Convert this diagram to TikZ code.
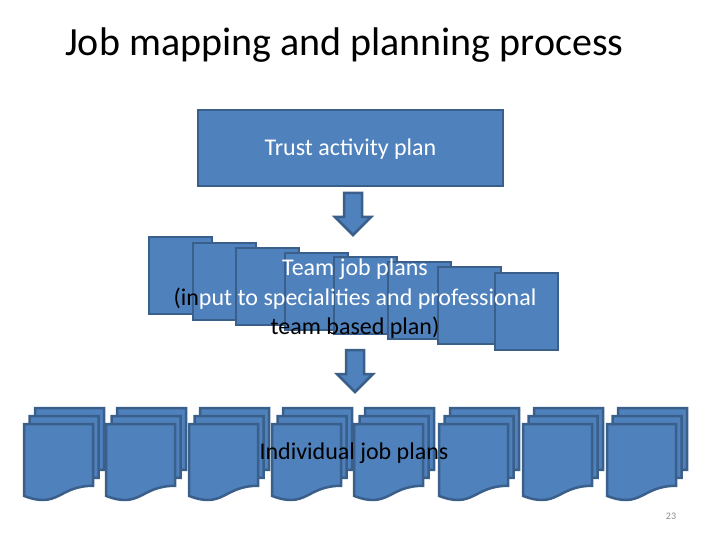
\documentclass[tikz,border=0pt]{standalone}
\usepackage{fontspec}
\setmainfont{Carlito}
\definecolor{boxfill}{HTML}{4F81BD}
\definecolor{boxline}{HTML}{3A5F8B}
\definecolor{pagenum}{HTML}{8A8A8A}
\tikzset{
  shapebox/.style={fill=boxfill,draw=boxline,line width=2.5bp,line join=miter},
  bodytext/.style={font=\fontsize{24bp}{29bp}\selectfont,inner sep=0pt,align=center},
}
\newcommand\docpath[2]{%
  \begin{scope}[shift={(#1,#2)}]
  \filldraw[shapebox] (0,0) -- (69,0) -- (69,61.8)
    .. controls (34.5,61.8) and (34.5,85.3) .. (0,71.9) -- cycle;
  \end{scope}}
\newcommand\downarrowshape[2]{% x center, top y
  \begin{scope}[shift={(#1,#2)}]
  \filldraw[shapebox] (-9,0) -- (9,0) -- (9,24) -- (18,24)
    -- (0,42) -- (-18,24) -- (-9,24) -- cycle;
  \end{scope}}
\begin{document}
\begin{tikzpicture}[x=1bp,y=-1bp]
\useasboundingbox (0,0) rectangle (720,540);
% title
\node[anchor=base west,inner sep=0pt,font=\fontsize{40bp}{48bp}\selectfont] (title) at (65,56) {Job mapping and planning process};
% top box
\filldraw[shapebox] (198,110) rectangle (503,186);
\node[bodytext,text=white,anchor=base] (trust) at (350.5,156) {Trust activity plan};
% arrow 1
\downarrowshape{353}{193}
% team squares
\foreach \x/\y in {149/237,193/243,236/248,285/253,334/257,388/262,438/267,495/273}{
  \filldraw[shapebox] (\x,\y) rectangle ++(63,77);
}
\node[bodytext,anchor=base] (team1) at (355,276) {\textcolor{white}{Team job plans}};
\node[bodytext,anchor=base] (team2) at (355,305) {\textcolor{black}{(in}\textcolor{white}{put to specialities and professional}};
\node[bodytext,anchor=base] (team3) at (355,334) {\textcolor{black}{team based plan)}};
% arrow 2
\downarrowshape{355}{350}
% document stacks
\foreach \x in {24,106,189,272,354,439,523,607}{
  \docpath{\x+11}{408}
  \docpath{\x+5.5}{416}
  \docpath{\x}{424}
}
\node[bodytext,anchor=base,text=black] (indiv) at (354,459) {Individual job plans};
% page number
\node[font=\fontsize{10bp}{12bp}\selectfont,text=pagenum,anchor=base] (pg) at (671,519) {23};
\end{tikzpicture}
\end{document}
